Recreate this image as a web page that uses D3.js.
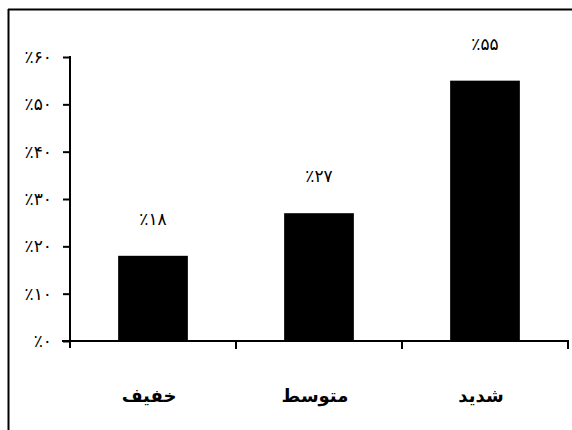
<!DOCTYPE html>
<html>
<head>
<meta charset="utf-8">
<script src="https://cdn.jsdelivr.net/npm/d3@7"></script>
<style>
  body { margin: 0; background: #fff; }
  text { font-family: "DejaVu Sans", sans-serif; fill: #000; }
</style>
</head>
<body>
<div id="viz-wrapper"></div>
<script>
let width = 572,
    height = 430;

// chart data
let categories = ["خفیف", "متوسط", "شدید"];
let values = [18, 27, 55];
let valueLabels = ["٪۱۸", "٪۲۷", "٪۵۵"];
let yTicks = [0, 10, 20, 30, 40, 50, 60];
let yTickLabels = ["٪۰", "٪۱۰", "٪۲۰", "٪۳۰", "٪۴۰", "٪۵۰", "٪۶۰"];

let axisX = 70,
    axisY = 341;

let xScale = d3.scaleBand()
  .domain(categories)
  .range([axisX, 568])
  .paddingInner(0.58)
  .paddingOuter(0.29);

let yScale = d3.scaleLinear().domain([0, 60]).range([axisY, 57]);

let svg = d3.select("#viz-wrapper")
  .append('svg')
  .attr('width', width)
  .attr('height', height);

// frame (top and left edges only)
svg.append('line')
  .attr('x1', 8).attr('x2', width).attr('y1', 9.5).attr('y2', 9.5)
  .style('stroke', '#000').style('stroke-width', 2);
svg.append('line')
  .attr('x1', 8.5).attr('x2', 8.5).attr('y1', 9).attr('y2', height)
  .style('stroke', '#000').style('stroke-width', 2);

// bars
svg.selectAll('rect.bar')
  .data(values)
  .enter()
  .append('rect')
  .attr('class', 'bar')
  .attr('x', function(d, i) { return xScale(categories[i]); })
  .attr('y', function(d) { return yScale(d); })
  .attr('width', xScale.bandwidth())
  .attr('height', function(d) { return axisY - yScale(d); })
  .style('fill', '#000');

// value labels
svg.selectAll('text.value')
  .data(values)
  .enter()
  .append('text')
  .attr('class', 'value')
  .attr('x', function(d, i) { return xScale(categories[i]) + xScale.bandwidth() / 2; })
  .attr('y', function(d) { return yScale(d) - 31; })
  .attr('text-anchor', 'middle')
  .style('font-size', '17px')
  .text(function(d, i) { return valueLabels[i]; });

// y axis
let yAxis = d3.axisLeft(yScale)
  .tickValues(yTicks)
  .tickSize(7)
  .tickPadding(11)
  .tickFormat(function(d, i) { return yTickLabels[i]; });

let yAxisG = svg.append('g')
  .attr('class', 'y axis')
  .attr('transform', 'translate(' + axisX + ',0)')
  .call(yAxis);

yAxisG.select('.domain').remove();
yAxisG.selectAll('line').style('stroke', '#000').style('stroke-width', 2);
yAxisG.selectAll('text')
  .style('font-size', '17px')
  .style('font-family', '"DejaVu Sans", sans-serif');

svg.append('line')
  .attr('x1', axisX).attr('x2', axisX)
  .attr('y1', yScale(60) - 1).attr('y2', axisY + 7)
  .style('stroke', '#000').style('stroke-width', 2);

// x axis line and category boundary ticks
svg.append('line')
  .attr('x1', axisX - 8).attr('x2', 569)
  .attr('y1', axisY).attr('y2', axisY)
  .style('stroke', '#000').style('stroke-width', 2);

svg.selectAll('line.xtick')
  .data(categories)
  .enter()
  .append('line')
  .attr('class', 'xtick')
  .attr('x1', function(d) { return xScale(d) + xScale.bandwidth() + xScale.step() * 0.29; })
  .attr('x2', function(d) { return xScale(d) + xScale.bandwidth() + xScale.step() * 0.29; })
  .attr('y1', axisY).attr('y2', axisY + 8)
  .style('stroke', '#000').style('stroke-width', 2);

// category labels
svg.selectAll('text.cat')
  .data(categories)
  .enter()
  .append('text')
  .attr('class', 'cat')
  .attr('x', function(d) { return xScale(d) + xScale.bandwidth() / 2 - 4; })
  .attr('y', 402)
  .attr('text-anchor', 'middle')
  .style('font-size', '18px')
  .style('font-weight', 'bold')
  .text(function(d) { return d; });
</script>
</body>
</html>
